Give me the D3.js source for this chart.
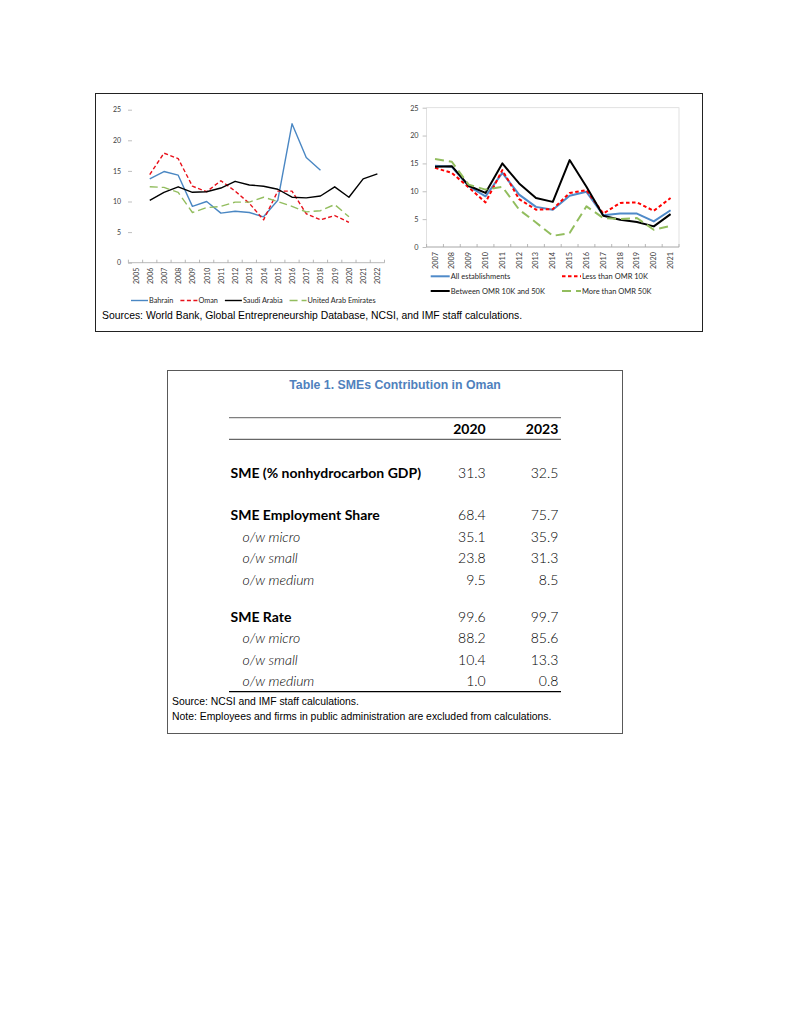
<!DOCTYPE html>
<html><head><meta charset="utf-8">
<script src="https://cdn.jsdelivr.net/npm/d3@7"></script>
<style>
html,body{margin:0;padding:0;background:#fff;}
svg{display:block;}
</style></head>
<body>
<script>
// ---------------- DATA ----------------
const leftYears = ["2005","2006","2007","2008","2009","2010","2011","2012","2013","2014","2015","2016","2017","2018","2019","2020","2021","2022"];
const bahrain = [null,13.7,14.9,14.3,9.2,10.0,8.1,8.4,8.2,7.5,10.2,22.7,17.2,15.1,null,null,null,null];
const oman    = [null,14.4,17.9,17.0,12.5,11.6,13.4,11.7,9.7,7.0,11.7,11.7,8.0,7.0,7.7,6.6,null,null];
const saudi   = [null,10.2,11.5,12.4,11.5,11.6,12.2,13.3,12.7,12.5,12.0,10.7,10.6,10.9,12.4,10.7,13.7,14.5];
const uae     = [null,12.4,12.3,11.5,8.2,9.0,9.2,9.9,9.9,10.7,10.0,9.2,8.3,8.5,9.5,7.5,null,null];
const leftNames = ["Bahrain","Oman","Saudi Arabia","United Arab Emirates"];
const leftTicks = [0,5,10,15,20,25];

const rightYears = ["2007","2008","2009","2010","2011","2012","2013","2014","2015","2016","2017","2018","2019","2020","2021"];
const allEst   = [14.6,14.4,10.9,9.1,13.3,9.4,7.2,6.7,9.2,9.9,5.7,6.0,6.0,4.6,6.6];
const less10K  = [14.2,13.3,10.7,8.0,13.8,8.6,6.7,6.8,9.7,10.2,6.0,7.9,8.0,6.5,8.8];
const between  = [14.4,14.5,11.0,9.7,15.0,11.4,8.8,8.1,15.6,10.8,5.6,4.9,4.5,3.7,5.9];
const more50K  = [15.8,15.3,11.2,10.3,10.8,6.7,4.4,2.0,2.5,7.3,5.2,5.0,5.2,3.1,3.8];
const rightNames = ["All establishments","Less than OMR 10K","Between OMR 10K and 50K","More than OMR 50K"];
const rightTicks = [0,5,10,15,20,25];

const chartSource = "Sources: World Bank, Global Entrepreneurship Database, NCSI, and IMF staff calculations.";

const tableTitle = "Table 1. SMEs Contribution in Oman";
const tableCols = ["2020","2023"];
const rowLabels = ["SME (% nonhydrocarbon GDP)","SME Employment Share","o/w micro","o/w small","o/w medium","SME Rate","o/w micro","o/w small","o/w medium"];
const rowIsSub  = [false,false,true,true,true,false,true,true,true];
const vals2020 = ["31.3","68.4","35.1","23.8","9.5","99.6","88.2","10.4","1.0"];
const vals2023 = ["32.5","75.7","35.9","31.3","8.5","99.7","85.6","13.3","0.8"];
const tableSource = "Source: NCSI and IMF staff calculations.";
const tableNote = "Note: Employees and firms in public administration are excluded from calculations.";

// ---------------- DRAW ----------------
const W = 791, H = 1024;
const svg = d3.select("body").append("svg").attr("width",W).attr("height",H);
svg.append("rect").attr("width",W).attr("height",H).attr("fill","#fff");

const chartFont = "Lato, 'Open Sans', sans-serif";
const arial = "'Liberation Sans', Arial, sans-serif";

// outer box of figure
svg.append("rect").attr("x",95.5).attr("y",93.5).attr("width",607).attr("height",238)
  .attr("fill","none").attr("stroke","#222").attr("stroke-width",1);

function lineChart(cfg){
  const g = svg.append("g");
  const x = d3.scaleBand().domain(cfg.years).range([cfg.x0,cfg.x1]).padding(0);
  const y = d3.scaleLinear().domain([0,25]).range([cfg.y0,cfg.y1]);
  const cx = d => x(d)+x.bandwidth()/2;
  if(cfg.box){
    g.append("rect").attr("x",cfg.x0).attr("y",cfg.y1).attr("width",cfg.x1-cfg.x0).attr("height",cfg.y0-cfg.y1)
      .attr("fill","none").attr("stroke","#d9d9d9").attr("stroke-width",0.8);
  }
  const ya = g.append("g").attr("transform",`translate(${cfg.yTickX},0)`)
    .call(d3.axisLeft(y).tickValues(cfg.ticks).tickSize(cfg.yTickLen).tickPadding(cfg.yPad).tickFormat(d3.format("d")));
  ya.select(".domain").remove();
  ya.selectAll(".tick line").attr("stroke","#bfbfbf");
  ya.selectAll("text").attr("font-family",chartFont).attr("font-size",cfg.fs).attr("fill","#404040");
  g.append("line").attr("x1",cfg.x0).attr("x2",cfg.x1).attr("y1",cfg.y0).attr("y2",cfg.y0)
    .attr("stroke","#a6a6a6").attr("stroke-width",0.8);
  const bounds = cfg.years.map(d=>x(d)).concat([cfg.x1]);
  g.selectAll(".xt").data(bounds).join("line").attr("class","xt")
    .attr("x1",d=>d).attr("x2",d=>d).attr("y1",cfg.y0-3).attr("y2",cfg.y0)
    .attr("stroke","#a6a6a6").attr("stroke-width",0.8);
  g.selectAll(".xl").data(cfg.years).join("text").attr("class","xl")
    .attr("transform",d=>`translate(${cx(d)},${cfg.y0+5}) rotate(-90)`)
    .attr("text-anchor","end").attr("dominant-baseline","central")
    .attr("font-family",chartFont).attr("font-size",cfg.fs).attr("fill","#404040")
    .text(d=>d);
  cfg.series.forEach(s=>{
    const line = d3.line().defined(v=>v!=null).x((v,i)=>cx(cfg.years[i])).y(v=>y(v));
    g.append("path").datum(s.values).attr("d",line).attr("fill","none")
      .attr("stroke",s.color).attr("stroke-width",s.w).attr("stroke-dasharray",s.dash||null)
      .attr("stroke-linejoin","round");
  });
  cfg.series.forEach((s,i)=>{
    const p = cfg.legendPos[i];
    g.append("line").attr("x1",p[0]).attr("x2",p[0]+cfg.legLine).attr("y1",p[1]).attr("y2",p[1])
      .attr("stroke",s.color).attr("stroke-width",s.w).attr("stroke-dasharray",s.dash||null);
    g.append("text").attr("x",p[0]+cfg.legLine+1).attr("y",p[1]).attr("dominant-baseline","central")
      .attr("font-family",chartFont).attr("font-size",cfg.lfs||cfg.fs).attr("fill","#262626").text(s.name);
  });
}

const blue = "#4a87c3", red = "#e8101a", black = "#000", green = "#92bd5e";

function flowLegend(names, startX, y, lineLen, gap, fs){
  const tmp = svg.append("text").attr("font-family",chartFont).attr("font-size",fs);
  let xx = startX; const pos = [];
  names.forEach(n=>{ tmp.text(n); pos.push([xx,y]); xx += lineLen + 1 + tmp.node().getComputedTextLength() + gap; });
  tmp.remove();
  return pos;
}

lineChart({
  years:leftYears, x0:128.4, x1:384.5, y0:262.7, y1:109.7, ticks:leftTicks,
  yTickX:132, yTickLen:4, yPad:7, fs:7, lfs:7.3, box:false, legLine:17,
  legendPos: flowLegend(leftNames,131,300.5,17,7,7.3),
  series:[
    {name:leftNames[0], values:bahrain, color:blue, w:1.4},
    {name:leftNames[1], values:oman, color:red, w:1.4, dash:"4,2.5"},
    {name:leftNames[2], values:saudi, color:black, w:1.4},
    {name:leftNames[3], values:uae, color:green, w:1.4, dash:"8,4"}
  ]
});

lineChart({
  years:rightYears, x0:426.6, x1:679, y0:247, y1:107.7, ticks:rightTicks,
  yTickX:426.6, yTickLen:4, yPad:4, fs:7.3, lfs:7.5, box:true, legLine:19,
  legendPos: [[430.7,276.3],[562,276.3],[430.7,291],[562,291]],
  series:[
    {name:rightNames[0], values:allEst, color:"#4f8ac9", w:2},
    {name:rightNames[1], values:less10K, color:"#f00", w:2, dash:"3.5,2.5"},
    {name:rightNames[2], values:between, color:black, w:2},
    {name:rightNames[3], values:more50K, color:green, w:2, dash:"9,5"}
  ]
});

svg.append("text").attr("x",102).attr("y",318.5).attr("font-family",arial).attr("font-size",10.4)
  .attr("fill","#000").text(chartSource);

// ---------------- TABLE ----------------
svg.append("rect").attr("x",167.5).attr("y",370.5).attr("width",455).attr("height",363)
  .attr("fill","none").attr("stroke","#595959").attr("stroke-width",1);
svg.append("text").attr("x",395).attr("y",384.5).attr("text-anchor","middle").attr("dominant-baseline","central")
  .attr("font-family",arial).attr("font-weight","bold").attr("font-size",12.3).attr("fill","#4f81bd").text(tableTitle);

const tx0 = 229, tx1 = 561;
svg.append("line").attr("x1",tx0).attr("x2",tx1).attr("y1",417.7).attr("y2",417.7).attr("stroke","#7f7f7f").attr("stroke-width",1.2);
svg.append("line").attr("x1",tx0).attr("x2",tx1).attr("y1",439.3).attr("y2",439.3).attr("stroke","#404040").attr("stroke-width",1);
svg.append("line").attr("x1",tx0).attr("x2",tx1).attr("y1",691.7).attr("y2",691.7).attr("stroke","#000").attr("stroke-width",1.2);

const colX = [485.7, 558.3];
const tableFont = "Lato, 'Open Sans', sans-serif";
tableCols.forEach((c,i)=>{
  svg.append("text").attr("x",colX[i]).attr("y",428.5).attr("text-anchor","end").attr("dominant-baseline","central")
    .attr("font-family",tableFont).attr("font-weight","bold").attr("font-size",14).attr("fill","#000").text(c);
});
const rowY = [472.3,514.3,536.5,557.5,579.3,616,637.8,659,680.5];
rowLabels.forEach((lab,i)=>{
  svg.append("text").attr("x",rowIsSub[i]?242.5:230.5).attr("y",rowY[i]).attr("dominant-baseline","central")
    .attr("font-family",tableFont).attr("font-size",14)
    .attr("font-weight",rowIsSub[i]?300:"bold").attr("font-style",rowIsSub[i]?"italic":"normal")
    .attr("fill","#000").text(lab);
  [vals2020[i],vals2023[i]].forEach((v,j)=>{
    svg.append("text").attr("x",colX[j]).attr("y",rowY[i]).attr("text-anchor","end").attr("dominant-baseline","central")
      .attr("font-family",tableFont).attr("font-size",14).attr("font-weight",300).attr("fill","#000").text(v);
  });
});
svg.append("text").attr("x",172).attr("y",701.8).attr("dominant-baseline","central").attr("font-family",arial)
  .attr("font-size",10.4).attr("fill","#000").text(tableSource);
svg.append("text").attr("x",172).attr("y",716).attr("dominant-baseline","central").attr("font-family",arial)
  .attr("font-size",10.4).attr("fill","#000").text(tableNote);
</script>
</body></html>
